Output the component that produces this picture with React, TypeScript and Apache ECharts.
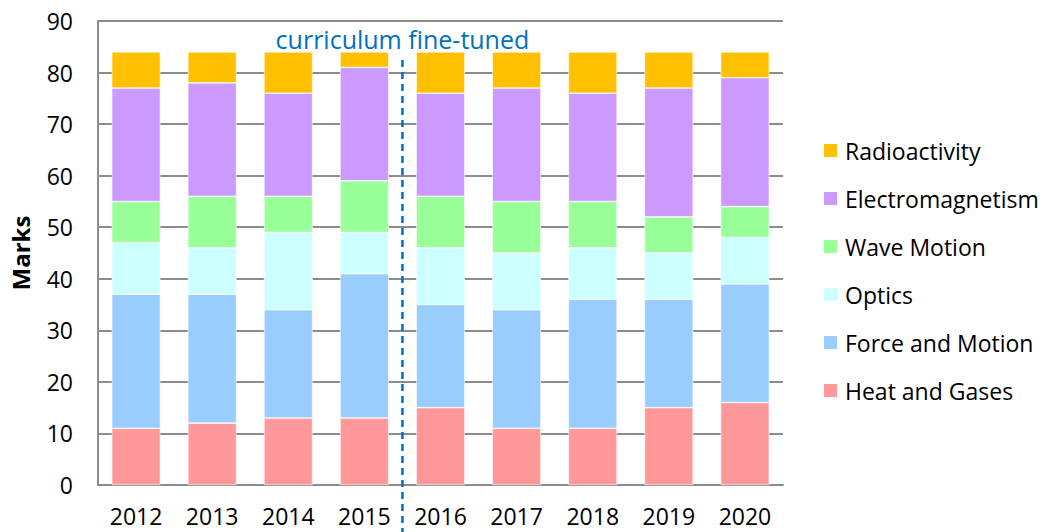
import React, { useEffect, useRef } from "react";
import * as echarts from "echarts";

const years = ["2012", "2013", "2014", "2015", "2016", "2017", "2018", "2019", "2020"];
const heatAndGases = [11, 12, 13, 13, 15, 11, 11, 15, 16];
const forceAndMotion = [26, 25, 21, 28, 20, 23, 25, 21, 23];
const optics = [10, 9, 15, 8, 11, 11, 10, 9, 9];
const waveMotion = [8, 10, 7, 10, 10, 10, 9, 7, 6];
const electromagnetism = [22, 22, 20, 22, 20, 22, 21, 25, 25];
const radioactivity = [7, 6, 8, 3, 8, 7, 8, 7, 5];
const yTicks = [0, 90, 10];
const annotation = "curriculum fine-tuned";

const FONT = "'Open Sans', 'Noto Sans', sans-serif";

export default function App() {
  const ref = useRef<HTMLDivElement>(null);
  useEffect(() => {
    document.body.style.margin = "0";
    const chart = echarts.init(ref.current!, null, { renderer: "svg" });
    const mk = (name: string, data: number[], color: string) => ({
      name,
      type: "bar",
      stack: "total",
      data,
      barWidth: "64%",
      itemStyle: { color, borderColor: "#ffffff", borderWidth: 0.6 },
    });
    chart.setOption({
      animation: false,
      textStyle: { fontFamily: FONT },
      grid: { left: 96, right: 264, top: 21, bottom: 47, containLabel: false },
      legend: {
        orient: "vertical",
        left: 817,
        top: 130,
        itemWidth: 15,
        itemHeight: 15,
        itemGap: 17,
        icon: "rect",
        textStyle: { fontSize: 23, color: "#000", fontFamily: FONT, padding: [0, 0, 0, 2], lineHeight: 31 },
        data: ["Radioactivity", "Electromagnetism", "Wave Motion", "Optics", "Force and Motion", "Heat and Gases"],
      },
      xAxis: {
        type: "category",
        data: years,
        axisLine: { lineStyle: { color: "#8c8c8c", width: 2 } },
        axisTick: { show: false },
        axisLabel: { fontSize: 23, color: "#000", margin: 19, fontFamily: FONT },
      },
      yAxis: {
        type: "value",
        min: yTicks[0],
        max: yTicks[1],
        interval: yTicks[2],
        name: "Marks",
        nameLocation: "middle",
        nameGap: 66,
        nameTextStyle: { fontSize: 24, fontWeight: "bold", color: "#000", fontFamily: FONT },
        axisLine: { show: true, lineStyle: { color: "#8c8c8c", width: 2 } },
        axisTick: { show: false },
        axisLabel: { fontSize: 23, color: "#000", margin: 25, fontFamily: FONT },
        splitLine: { lineStyle: { color: "#8c8c8c", width: 2 } },
      },
      series: [
        mk("Heat and Gases", heatAndGases, "#FF9999"),
        mk("Force and Motion", forceAndMotion, "#99CCFF"),
        mk("Optics", optics, "#CCFFFF"),
        mk("Wave Motion", waveMotion, "#99FF99"),
        mk("Electromagnetism", electromagnetism, "#CC99FF"),
        mk("Radioactivity", radioactivity, "#FFC000"),
      ],
    });
    const x1 = chart.convertToPixel({ xAxisIndex: 0 }, years[3]) as number;
    const x2 = chart.convertToPixel({ xAxisIndex: 0 }, years[4]) as number;
    const xm = (x1 + x2) / 2;
    chart.setOption({
      graphic: [
        {
          type: "line",
          shape: { x1: xm, y1: 60, x2: xm, y2: 532 },
          style: { stroke: "#0070C0", lineWidth: 2.5, lineDash: [7, 5] },
          z: 10,
        },
        {
          type: "text",
          x: xm,
          y: 39,
          style: {
            text: annotation,
            fill: "#0070C0",
            fontSize: 25,
            fontFamily: FONT,
            align: "center",
            verticalAlign: "middle",
          },
          z: 10,
        },
      ],
    });
    return () => chart.dispose();
  }, []);
  return <div ref={ref} style={{ width: 1047, height: 532 }} />;
}
